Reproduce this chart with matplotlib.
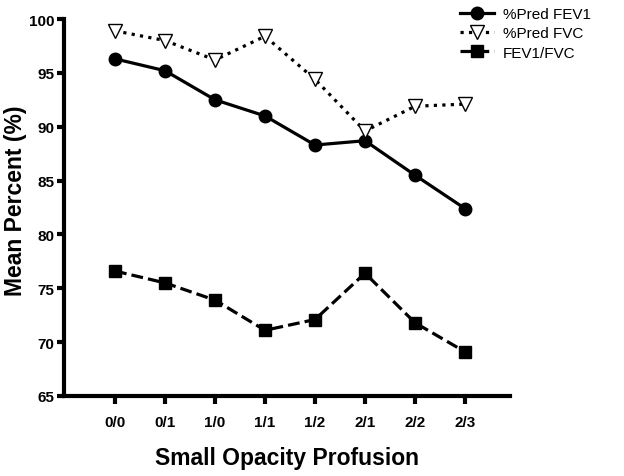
import matplotlib
matplotlib.use("Agg")
import matplotlib.pyplot as plt

categories = ["0/0", "0/1", "1/0", "1/1", "1/2", "2/1", "2/2", "2/3"]
fev1 = [96.3, 95.2, 92.5, 91.0, 88.3, 88.7, 85.5, 82.4]
fvc = [98.9, 98.0, 96.2, 98.4, 94.4, 89.6, 91.9, 92.1]
ratio = [76.6, 75.5, 73.9, 71.1, 72.1, 76.4, 71.8, 69.1]
yticks = [65, 70, 75, 80, 85, 90, 95, 100]

plt.rcParams['font.family'] = ['Liberation Sans', 'DejaVu Sans']

fig = plt.figure(figsize=(6.24, 4.77), dpi=100)
ax = fig.add_axes([64/624, 1-397/477, (510-64)/624, (397-20)/477])

x = list(range(len(categories)))
ax.plot(x, fev1, '-', color='black', lw=2.3, marker='o', ms=9, label='%Pred FEV1')
ax.plot(x, fvc, ':', color='black', lw=2.3, marker='v', ms=10, mfc='white', mec='black', mew=1, label='%Pred FVC')
ax.plot(x, ratio, '--', color='black', lw=2.3, marker='s', ms=8.5, label='FEV1/FVC')

ax.set_xlim(-1.02, 7.9)
ax.set_ylim(65, 100)
ax.set_yticks(yticks)
ax.set_xticks(x)
ax.set_xticklabels(categories)
for s in ['top', 'right']:
    ax.spines[s].set_visible(False)
for s in ['left', 'bottom']:
    ax.spines[s].set_linewidth(3)
ax.tick_params(axis='both', width=3, length=5, direction='out', labelsize=11)
ax.tick_params(axis='y', pad=2)
ax.tick_params(axis='x', length=6, pad=8)
for lab in ax.get_xticklabels() + ax.get_yticklabels():
    lab.set_fontweight('bold')

ax.set_xlabel('Small Opacity Profusion', fontsize=16.5, fontweight='bold', labelpad=12)
ax.set_ylabel('Mean Percent (%)', fontsize=16.5, fontweight='bold')
ax.yaxis.set_label_coords(-0.083, 0.52)

leg = fig.legend(loc='upper left', bbox_to_anchor=(460/624, 1-8/477), frameon=False, fontsize=11,
                 handlelength=2.2, labelspacing=0.35, handletextpad=0.6, borderpad=0, borderaxespad=0)

fig.savefig('out.png', dpi=100)
